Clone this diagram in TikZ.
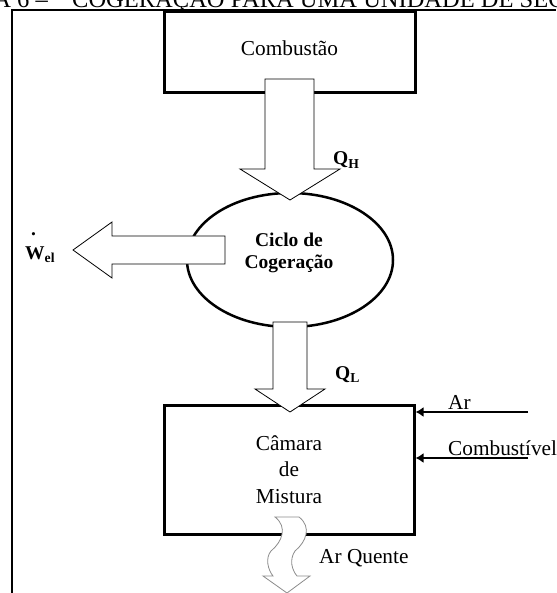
\documentclass[tikz,border=0pt]{standalone}
\usepackage{fontspec}
\setmainfont{Liberation Serif}
\usepackage{xcolor}
\usepackage{tikz}
\usetikzlibrary{positioning, arrows.meta, shapes.geometric}
\definecolor{quentegray}{HTML}{8C8C8C}

\begin{document}
\begin{tikzpicture}[x=1pt, y=-1pt, >=Latex,
    box/.style={draw, rectangle, line width=3pt, inner sep=0pt, align=center, font=\fontsize{21.3}{26.5}\selectfont},
    heat/.style={draw, fill=white, line width=0.8pt},
    flux/.style={-{Latex[length=8pt, width=10pt]}, line width=2.6pt},
    lbl/.style={inner sep=0pt, font=\fontsize{21.3}{26}\selectfont},
    blbl/.style={inner sep=0pt, align=center, font=\bfseries\fontsize{19.5}{22}\selectfont}]
\useasboundingbox (0,0) rectangle (556,593);
% titulo, cortado no topo
\begin{scope}
  \clip (0,0) rectangle (556,593);
  \node[lbl, anchor=base east, font=\fontsize{24.5}{28}\selectfont] (titnum) at (48,7.5) {FIGURA 6 –};
  \node[lbl, anchor=base west, font=\fontsize{24.5}{28}\selectfont] (tittxt) at (72,7.5) {COGERAÇÃO PARA UMA UNIDADE DE SECAGEM};
\end{scope}
\draw[line width=2pt] (12,593) -- (12,10) -- (556,10);

% blocos
\node[box, minimum width=251pt, minimum height=81pt, text depth=8pt] (comb) at (289.5,52.5) {Combustão};
\node[draw, ellipse, line width=2.5pt, minimum width=206pt, minimum height=134pt, inner sep=0pt] (ciclo) at (290,260) {};
\node[blbl] (ciclotxt) at (289,253) {Ciclo de\\Cogeração};
\node[box, minimum width=250pt, minimum height=129pt] (camara) at (289,469.5) {Câmara\\de\\Mistura};

% fluxos de calor e trabalho
\coordinate (qhtip) at (290,200);
\coordinate (qltip) at (290,412);
\coordinate (weltip) at (73,250);
\draw[heat] (qhtip) -- ++(50,-31) -- ++(-26,0) -- ++(0,-90) -- ++(-49,0) -- ++(0,90) -- ++(-25,0) -- cycle;
\draw[heat] (qltip) -- ++(35,-23) -- ++(-18,0) -- ++(0,-67) -- ++(-34,0) -- ++(0,67) -- ++(-18,0) -- cycle;
\draw[heat] (weltip) -- ++(39,-28) -- ++(0,14) -- ++(113,0) -- ++(0,28) -- ++(-113,0) -- ++(0,14) -- cycle;
\draw[heat, draw=quentegray] (275,517) .. controls (288,527) and (282,542) .. (271,551)
  .. controls (265,558) and (268,570) .. (273,576) -- (263,576) -- (287,593) -- (310,576) -- (297,576)
  .. controls (292,570) and (289,560) .. (295,551) .. controls (306,542) and (312,527) .. (299,517) -- cycle;

\node[blbl, anchor=base west] (qh) at (333,165) {Q\textsubscript{H}};
\node[blbl, anchor=base west] (ql) at (335,379) {Q\textsubscript{L}};
\node[blbl, anchor=base west] (wel) at (25,259) {\rlap{\hspace{0.3em}\raisebox{1.2em}{.}}W\textsubscript{el}};
\node[lbl, anchor=base west] (quente) at (319,563) {Ar Quente};

% entradas
\coordinate (arsrc) at (528,412);
\coordinate (fuelsrc) at (528,458);
\draw[flux] (arsrc) -- (arsrc -| camara.east);
\draw[flux] (fuelsrc) -- (fuelsrc -| camara.east);
\node[lbl, anchor=base west] (ar) at (448,409) {Ar};
\node[lbl, anchor=base west] (fuel) at (448,455) {Combustível};
\end{tikzpicture}
\end{document}
